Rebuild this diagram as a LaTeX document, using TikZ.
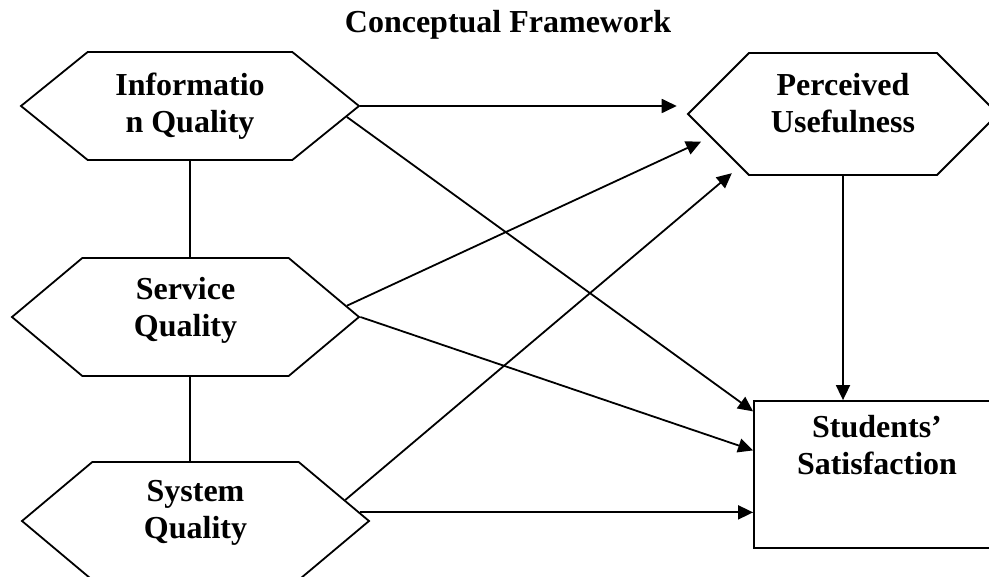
\documentclass[tikz,border=0pt]{standalone}
\usepackage{fontspec}
\setmainfont{Liberation Serif}
\usetikzlibrary{
  arrows.meta,
  shapes.symbols
}

\begin{document}
\begin{tikzpicture}[x=1pt, y=-1pt,
  hexa/.style={
    draw, signal, signal to=west and east, line width=1.8pt,
    inner sep=0pt, align=center,
    font=\fontsize{32}{37}\selectfont\bfseries
  },
  outcome/.style={
    draw, rectangle, line width=1.8pt, inner sep=0pt, align=center,
    font=\fontsize{32}{37}\selectfont\bfseries
  },
  arr/.style={-{Triangle[length=15pt,width=14pt]}, line width=1.8pt},
  link/.style={line width=1.8pt},
]
\useasboundingbox (0,0) rectangle (989,577);
\clip (0,0) rectangle (989,577);

\node[font=\fontsize{32}{37}\selectfont\bfseries, anchor=base] (title) at (508,33) {Conceptual Framework};

% Quality constructs on the left
\node[hexa, minimum width=338pt, minimum height=108pt, signal pointer angle=78] (info) at (190,106) {Informatio\\n Quality};
\node[hexa, minimum width=347pt, minimum height=118pt, signal pointer angle=80, text depth=20pt] (serv) at (185.5,317) {Service\\Quality};
\node[hexa, minimum width=347pt, minimum height=118pt, signal pointer angle=80, text depth=24pt] (sys) at (195.5,521) {System\\Quality};

% Mediator and outcome
\node[hexa, minimum width=310pt, minimum height=122pt, signal pointer angle=90, text depth=22pt] (perc) at (843,114) {Perceived\\Usefulness};
\node[outcome, minimum width=246pt, minimum height=147pt, text depth=60pt] (sat) at (877,474.5) {Students'\\Satisfaction};

\draw[link] (info.south) -- (info.south |- serv.north);
\draw[link] (info.south |- serv.south) -- (info.south |- sys.north);

\draw[arr, shorten >=10pt] (info.east) -- (info.east -| perc.west);
\draw[arr] (info.-4) -- (sat.153);
\draw[arr, shorten >=10pt] (serv.4) -- (perc.190);
\draw[arr] (serv.east) -- (sat.169);
\draw[arr, shorten >=10pt] (sys.8) -- (perc.207);
\draw[arr] (sys.3) -- (sys.3 -| sat.west);
\draw[arr] (perc.south) -- (perc.south |- sat.north);

\end{tikzpicture}
\end{document}
